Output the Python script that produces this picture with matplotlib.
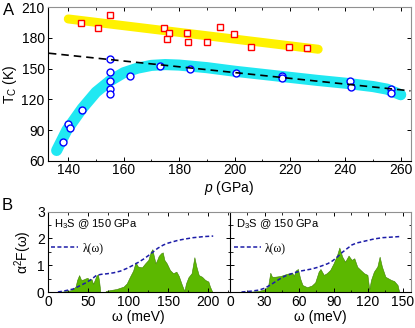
import numpy as np
from matplotlib import pyplot as plt
from matplotlib.ticker import MultipleLocator

plt.rcParams['font.family'] = ['Liberation Sans', 'DejaVu Sans']
plt.rcParams['mathtext.fontset'] = 'custom'
plt.rcParams['mathtext.rm'] = 'Liberation Sans'
plt.rcParams['mathtext.it'] = 'Liberation Sans:italic'

# ---- panel A data ----
# red squares
p_sq = [144.7, 150.9, 154.9, 174.7, 176.4, 175.8, 182.9, 183.2, 190.1, 194.8, 199.8, 205.9, 219.8, 226.0]
tc_sq = [195.0, 189.8, 202.8, 189.8, 185.0, 179.1, 185.0, 176.2, 175.9, 190.5, 184.0, 171.6, 171.3, 170.0]
# blue circles
p_ci = [138.2, 140.0, 140.8, 144.9, 154.9, 155.0, 154.9, 155.1, 154.9, 162.2, 173.2, 184.1, 200.4, 217.2,
        217.3, 241.8, 242.1, 256.4, 256.5]
tc_ci = [77.9, 95.8, 91.6, 109.8, 159.0, 146.9, 138.1, 130.0, 125.4, 143.0, 152.7, 149.5, 145.6, 142.6,
         140.4, 138.4, 131.9, 130.3, 126.0]
# yellow band ends
p_yel = [140.0, 230.2]
tc_yel = [198.6, 169.0]
# cyan band path
p_cy = [135.8, 139.5, 145, 150, 155, 160, 165, 170, 175, 180, 190, 200, 210, 220, 230, 240, 250, 255, 260]
tc_cy = [70, 90, 111, 127, 138, 146, 150.5, 153.2, 154, 153.5, 151, 147.5, 144.5, 141.5, 138.5, 135.8, 132.5, 130, 124.5]
# dashed trend line ends
p_dash = [133.0, 263.5]
tc_dash = [165.1, 128.3]

# ---- panel B data ----
w_h = [12, 19, 29, 34, 36, 38.5, 41, 44, 46, 49, 51, 54, 56, 58, 60, 62, 63.5, 65, 71, 72, 77, 85, 94, 98,
       102, 106, 109, 112, 117, 121, 125, 128, 130, 132, 134, 136, 138, 141, 143, 145, 148, 152, 156, 160,
       163, 167, 170, 172, 175, 179, 182.5, 185, 188, 192, 196, 200, 202, 205]
a2f_h = [0, 0.02, 0.07, 0.2, 0.45, 0.63, 0.45, 0.47, 0.5, 0.53, 0.45, 0.48, 0.3, 0.45, 0.6, 0.66, 0.4, 0, 0, 0.04,
         0.07, 0.11, 0.2, 0.32, 0.57, 0.8, 1.11, 0.95, 0.92, 1.07, 1.2, 1.5, 1.6, 1.32, 1.07, 1.2, 1.35, 1.45,
         1.48, 1.2, 1.07, 0.82, 0.7, 0.76, 0.6, 0.26, 0.04, 0.32, 0.55, 0.7, 1.3, 0.95, 0.63, 0.57, 0.45,
         0.39, 0.2, 0]
w_d = [10, 20, 25, 30, 33, 35, 36.5, 39, 44, 49.5, 54, 55.5, 57, 59, 61, 63, 67, 71, 74, 77, 78.6, 81.5, 84,
       87, 90, 93, 95, 97.5, 100, 103, 105.7, 108, 110.6, 113.5, 116.5, 119.4, 121, 122.5, 125, 128, 130,
       132, 135, 140, 142.6, 145.6, 147]
a2f_d = [0, 0.02, 0.04, 0.1, 0.2, 0.72, 0.57, 0.57, 0.6, 0.68, 0.72, 0.6, 0.8, 0.86, 0.5, 0.26, 0.18, 0.24,
         0.36, 0.76, 0.86, 0.64, 0.7, 0.82, 1.07, 1.38, 1.66, 1.32, 1.13, 1.36, 1.2, 1.26, 0.94, 0.82, 0.7,
         0.64, 0.1, 0.45, 0.76, 0.95, 1.32, 0.95, 0.57, 0.45, 0.41, 0.26, 0]
lw_h = [12, 20, 31, 40, 48, 55, 60, 66, 73, 82, 90, 98, 106, 112, 119, 125, 131, 137, 144, 150, 156, 162,
        169, 175, 181, 188, 194, 200, 206]
lam_h = [0, 0.04, 0.11, 0.24, 0.36, 0.5, 0.62, 0.66, 0.68, 0.72, 0.78, 0.88, 1.0, 1.1, 1.23, 1.36, 1.5,
         1.64, 1.76, 1.83, 1.88, 1.93, 1.97, 2.0, 2.03, 2.05, 2.07, 2.08, 2.09]
lw_d = [10, 18, 25, 30, 35, 40, 44, 48, 52, 56, 61, 66, 71, 76, 80, 85, 89, 93, 97.5, 102, 106, 110, 115,
        120, 124, 128, 132.5, 140, 147]
lam_d = [0, 0.03, 0.07, 0.14, 0.26, 0.4, 0.51, 0.6, 0.66, 0.72, 0.78, 0.82, 0.86, 0.92, 0.98, 1.06, 1.16,
         1.3, 1.48, 1.63, 1.76, 1.83, 1.88, 1.93, 1.97, 2.0, 2.03, 2.05, 2.07]

W, H = 415.0, 328.0
fig = plt.figure(figsize=(W / 100, H / 100), dpi=100)

def frame(ax):
    ax.tick_params(which='both', direction='in', top=True, right=True, labelsize=10, pad=2)
    ax.tick_params(which='major', length=3, width=0.7)
    ax.tick_params(which='minor', length=1.8, width=0.6)
    for s in ['top', 'right']:
        ax.spines[s].set_color('#909090')
    for s in ['left', 'bottom']:
        ax.spines[s].set_color('black')
    for s in ax.spines.values():
        s.set_linewidth(0.8)

# ---- panel A ----
axA = fig.add_axes([47.5 / W, 1 - 160.7 / H, (410.7 - 47.5) / W, (160.7 - 7.3) / H])
frame(axA)
axA.plot(p_yel, tc_yel, color='#fff200', lw=6.5, solid_capstyle='round', zorder=1)
axA.plot(p_cy, tc_cy, color='#20e8f2', lw=8, solid_capstyle='round', solid_joinstyle='round', zorder=1)
axA.plot(p_sq, tc_sq, ls='none', marker='s', ms=4.2, mfc='white', mec='red', mew=1, zorder=3)
axA.plot(p_ci, tc_ci, ls='none', marker='o', ms=5, mfc='white', mec='blue', mew=1, zorder=3)
axA.plot(p_dash, tc_dash, color='black', lw=1.2, dashes=(4.5, 3), zorder=4)
axA.set_xlim(132.5, 263.6)
axA.set_ylim(60, 210)
axA.xaxis.set_major_locator(MultipleLocator(20))
axA.xaxis.set_minor_locator(MultipleLocator(10))
axA.yaxis.set_major_locator(MultipleLocator(30))
axA.set_xlabel('$p$ (GPa)', fontsize=10, labelpad=1)
axA.set_ylabel('T$_\\mathrm{C}$ (K)', fontsize=10, labelpad=2)

# ---- panel B ----
bl, bm, br = 47.5, 230.0, 410.7
bt, bb = 211.7, 292.0
axB1 = fig.add_axes([bl / W, 1 - bb / H, (bm - bl) / W, (bb - bt) / H])
axB2 = fig.add_axes([bm / W, 1 - bb / H, (br - bm) / W, (bb - bt) / H])
green = '#5cb800'
navy = '#1c1ca8'
for ax, w, a, lw_, lam, name, xmin, xmax, major, minor in [
        (axB1, w_h, a2f_h, lw_h, lam_h, 'H$_3$S @ 150 GPa', -1, 227, 50, 25),
        (axB2, w_d, a2f_d, lw_d, lam_d, 'D$_3$S @ 150 GPa', 0, 157, 30, 15)]:
    frame(ax)
    ax.fill_between(w, a, 0, facecolor=green, edgecolor='#3d8000', lw=0.4, zorder=1)
    ln, = ax.plot(lw_, lam, color=navy, lw=1.1, dashes=(2.6, 1.6), zorder=2)
    ax.set_xlim(xmin, xmax)
    ax.set_ylim(0, 3)
    ax.xaxis.set_major_locator(MultipleLocator(major))
    ax.xaxis.set_minor_locator(MultipleLocator(minor))
    ax.yaxis.set_major_locator(MultipleLocator(1))
    ax.yaxis.set_minor_locator(MultipleLocator(0.5))
    ax.text(0.035, 0.93, name, transform=ax.transAxes, fontsize=8, va='top', ha='left')
    ax.legend(handles=[ln], labels=['\u03bb(\u03c9)'], loc='center left', bbox_to_anchor=(0.0, 0.545),
              frameon=False, borderpad=0, borderaxespad=0.3, handlelength=2.3, handletextpad=0.35,
              prop={'family': 'Liberation Serif', 'size': 8.5})
    ax.set_xlabel('\u03c9 (meV)', fontsize=10, labelpad=1)

axB2.tick_params(labelleft=False)
axB2.spines['left'].set_color('black')
axB1.spines['right'].set_visible(False)
axB1.set_ylabel('\u03b1$^2$F(\u03c9)', fontsize=10, labelpad=2)

fig.text(3 / W, 1 - 3 / H, 'A', fontsize=12, va='top', ha='left')
fig.text(2 / W, 1 - 198 / H, 'B', fontsize=12, va='top', ha='left')

fig.savefig('out.png', dpi=100)
